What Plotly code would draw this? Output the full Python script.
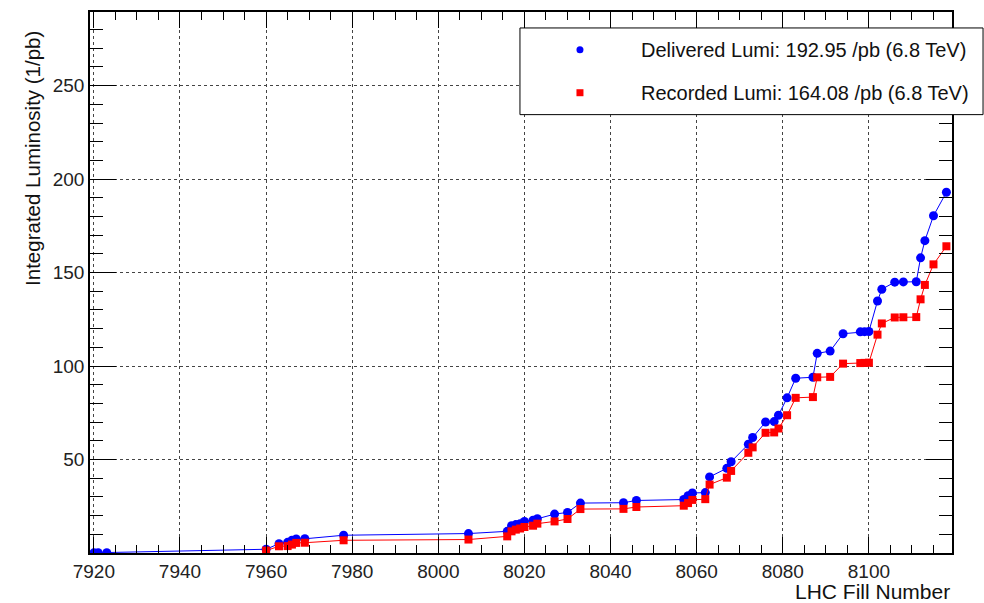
import plotly.graph_objects as go

# Integrated luminosity per LHC fill, 2022 running at 6.8 TeV
delivered_fills = [7920, 7921, 7923, 7960, 7963, 7965, 7966, 7967, 7969, 7978,
                   8007, 8016, 8017, 8018, 8019, 8020, 8022, 8023, 8027, 8030,
                   8033, 8043, 8046, 8057, 8058, 8059, 8062, 8063, 8067, 8068,
                   8072, 8073, 8076, 8078, 8079, 8081, 8083, 8087, 8088, 8091,
                   8094, 8098, 8099, 8100, 8102, 8103, 8106, 8108, 8111, 8112,
                   8113, 8115, 8118]
delivered_lumi = [0.1, 0.15, 0.2, 2.0, 5.0, 5.7, 6.8, 7.5, 7.6, 9.5,
                  10.4, 11.6, 14.6, 15.2, 15.7, 16.9, 17.5, 18.3, 20.8, 21.7,
                  26.7, 26.9, 28.1, 28.6, 30.6, 32.1, 32.3, 40.7, 45.3, 48.8,
                  58.2, 61.8, 70.1, 70.3, 73.7, 83.0, 93.5, 94.0, 106.8, 108.0,
                  117.3, 118.3, 118.4, 118.5, 134.8, 141.1, 144.9, 145.0, 145.1, 157.9,
                  167.1, 180.4, 192.95]

recorded_fills = [7960, 7963, 7965, 7966, 7967, 7969, 7978,
                  8007, 8016, 8017, 8018, 8019, 8020, 8022, 8023, 8027, 8030,
                  8033, 8043, 8046, 8057, 8058, 8059, 8062, 8063, 8067, 8068,
                  8072, 8073, 8076, 8078, 8079, 8081, 8083, 8087, 8088, 8091,
                  8094, 8098, 8099, 8100, 8102, 8103, 8106, 8108, 8111, 8112,
                  8113, 8115, 8118]
recorded_lumi = [1.3, 3.6, 3.7, 4.5, 5.4, 5.5, 6.8,
                 7.2, 8.9, 11.6, 12.5, 13.1, 13.9, 14.6, 15.7, 16.9, 18.2,
                 23.5, 23.6, 24.6, 25.3, 26.7, 28.4, 28.8, 36.6, 40.3, 43.9,
                 53.6, 56.5, 64.3, 64.5, 66.6, 73.7, 83.0, 83.4, 94.0, 94.2,
                 101.3, 101.6, 101.7, 101.8, 116.8, 122.8, 126.0, 126.1, 126.2, 135.7,
                 143.4, 154.4, 164.08]

x_ticks = [7920, 7940, 7960, 7980, 8000, 8020, 8040, 8060, 8080, 8100]
y_ticks = [50, 100, 150, 200, 250]

legend_labels = ["Delivered Lumi: 192.95 /pb (6.8 TeV)",
                 "Recorded Lumi: 164.08 /pb (6.8 TeV)"]

FONT = "Liberation Sans, Arial, Helvetica, sans-serif"
BLUE = "#0000ff"
RED = "#ff0000"

fig = go.Figure()
fig.add_trace(go.Scatter(
    x=delivered_fills, y=delivered_lumi, mode="lines+markers",
    name=legend_labels[0],
    line=dict(color=BLUE, width=1),
    marker=dict(symbol="circle", size=9, color=BLUE, line=dict(width=0)),
))
fig.add_trace(go.Scatter(
    x=recorded_fills, y=recorded_lumi, mode="lines+markers",
    name=legend_labels[1],
    line=dict(color=RED, width=1),
    marker=dict(symbol="square", size=8, color=RED, line=dict(width=0)),
))

axis_common = dict(
    showline=True, linecolor="black", linewidth=1.5, mirror="ticks",
    ticks="inside", tickcolor="black", tickwidth=1,
    showgrid=True, gridcolor="#444444", griddash="dot", gridwidth=1,
    zeroline=False,
    tickfont=dict(family=FONT, size=19, color="#222222"),
)

fig.update_xaxes(
    range=[7919.1, 8119.3], tickvals=x_ticks, ticklen=16,
    minor=dict(dtick=5, tick0=7920, ticks="inside", ticklen=8,
               tickcolor="black", showgrid=False),
    **axis_common,
)
fig.update_yaxes(
    range=[0, 289.4], tickvals=y_ticks, ticklen=26,
    minor=dict(dtick=10, tick0=0, ticks="inside", ticklen=13,
               tickcolor="black", showgrid=False),
    **axis_common,
)

# Legend box drawn by hand so the swatch/text spacing follows ROOT's TLegend
shapes = [
    dict(type="rect", xref="paper", yref="paper",
         x0=0.4988, x1=1.036, y0=0.8103, y1=0.9705,
         line=dict(color="black", width=1), fillcolor="white", layer="above"),
    dict(type="circle", xref="paper", yref="paper",
         xsizemode="pixel", ysizemode="pixel",
         xanchor=0.5684, yanchor=0.930, x0=-3.5, x1=3.5, y0=-3.5, y1=3.5,
         fillcolor=BLUE, line=dict(width=0), layer="above"),
    dict(type="rect", xref="paper", yref="paper",
         xsizemode="pixel", ysizemode="pixel",
         xanchor=0.5684, yanchor=0.8508, x0=-3.5, x1=3.5, y0=-3.5, y1=3.5,
         fillcolor=RED, line=dict(width=0), layer="above"),
]

annotations = [
    dict(text=legend_labels[0], xref="paper", yref="paper", x=0.6369, y=0.930,
         xanchor="left", yanchor="middle", showarrow=False,
         font=dict(family=FONT, size=20, color="#111111")),
    dict(text=legend_labels[1], xref="paper", yref="paper", x=0.6369, y=0.8508,
         xanchor="left", yanchor="middle", showarrow=False,
         font=dict(family=FONT, size=20, color="#111111")),
    dict(text="LHC Fill Number", xref="paper", yref="paper", x=1.0, y=-0.0718,
         xanchor="right", yanchor="middle", showarrow=False,
         font=dict(family=FONT, size=21, color="#111111")),
    dict(text="Integrated Luminosity (1/pb)", xref="paper", yref="paper",
         x=-0.066, y=0.968, xanchor="center", yanchor="top", textangle=-90,
         showarrow=False, font=dict(family=FONT, size=20.5, color="#111111")),
]

fig.update_layout(
    width=984, height=603,
    margin=dict(l=90, r=32, t=10, b=50),
    paper_bgcolor="white", plot_bgcolor="white",
    showlegend=False,
    shapes=shapes, annotations=annotations,
    font=dict(family=FONT),
)

fig.write_html("out.html")
